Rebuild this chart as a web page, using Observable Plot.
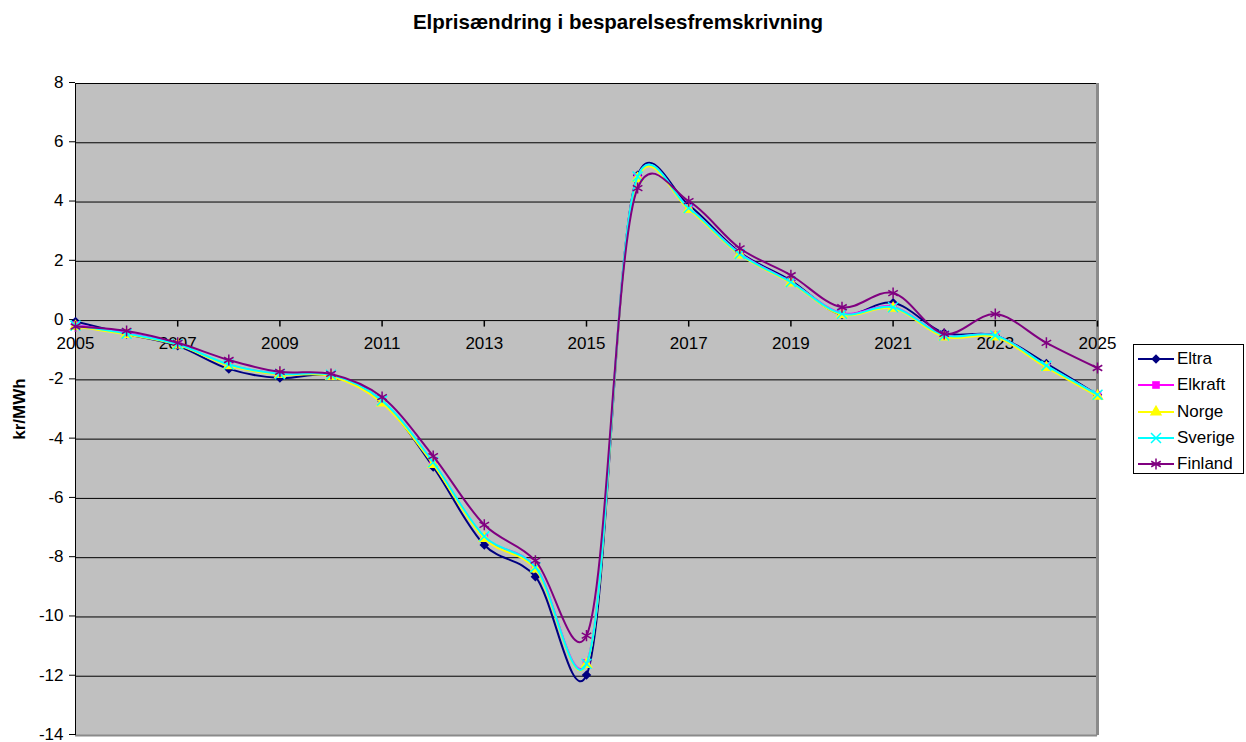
<!DOCTYPE html>
<html>
<head>
<meta charset="utf-8">
<script src="https://cdn.jsdelivr.net/npm/d3@7"></script>
<script src="https://cdn.jsdelivr.net/npm/@observablehq/plot@0.6"></script>
<style>
  body { margin: 0; background: #fff; font-family: "Liberation Sans", Arial, sans-serif; }
  #chart { position: relative; width: 1246px; height: 742px; }
  #title { position: absolute; left: 0; top: 10px; width: 1236px; text-align: center;
           font-weight: bold; font-size: 20.5px; line-height: 24px; color: #000; }
  #ylabel { position: absolute; left: 20px; top: 409px; transform: translate(-50%, -50%) rotate(-90deg);
            font-weight: bold; font-size: 17px; white-space: nowrap; }
  #legend { position: absolute; left: 1133px; top: 344px; width: 111px; height: 130px;
            border: 1px solid #000; background: #fff; box-sizing: border-box; padding-top: 1px; }
  .row { display: flex; align-items: center; height: 26.3px; font-size: 17px; }
  .row svg { margin-left: 4px; margin-right: 3px; }
</style>
</head>
<body>
<div id="chart">
  <div id="title">Elprisændring i besparelsesfremskrivning</div>
  <div id="ylabel">kr/MWh</div>
  <div id="legend"></div>
</div>
<script>
// Yearly price change per area (kr/MWh)
const years = d3.range(2005, 2026);
const eltra   = [-0.03, -0.45, -0.85, -1.63, -1.94, -1.85, -2.72, -4.94, -7.57, -8.64, -11.96, 4.90, 3.90, 2.30, 1.35, 0.20, 0.60, -0.42, -0.50, -1.45, -2.50];
const elkraft = [-0.15, -0.42, -0.80, -1.50, -1.80, -1.85, -2.72, -4.80, -7.30, -8.30, -11.55, 4.85, 3.80, 2.27, 1.30, 0.25, 0.47, -0.50, -0.50, -1.53, -2.50];
const norge   = [-0.20, -0.47, -0.82, -1.52, -1.82, -1.88, -2.78, -4.85, -7.35, -8.38, -11.60, 4.80, 3.75, 2.22, 1.27, 0.20, 0.42, -0.55, -0.55, -1.58, -2.55];
const sverige = [-0.17, -0.44, -0.80, -1.48, -1.80, -1.83, -2.70, -4.78, -7.28, -8.32, -11.58, 4.86, 3.80, 2.25, 1.30, 0.23, 0.45, -0.50, -0.50, -1.52, -2.50];
const finland = [-0.20, -0.35, -0.75, -1.33, -1.73, -1.80, -2.58, -4.57, -6.89, -8.10, -10.63, 4.47, 4.03, 2.44, 1.53, 0.45, 0.93, -0.45, 0.22, -0.75, -1.60];

const yTicks = d3.range(-14, 9, 2);
const xTickYears = d3.range(2005, 2026, 2);

const seriesList = [
  {name: "Eltra",   values: eltra,   color: "#000080", symbol: "diamond2", r: 4.3, filled: true},
  {name: "Elkraft", values: elkraft, color: "#FF00FF", symbol: "square",   r: 4.3, filled: true},
  {name: "Norge",   values: norge,   color: "#FFFF00", symbol: "triangle", r: 4.6, filled: true},
  {name: "Sverige", values: sverige, color: "#00FFFF", symbol: "times",    r: 4.6, filled: false},
  {name: "Finland", values: finland, color: "#800080", symbol: "asterisk", r: 5.2, filled: false}
];

// smoothed line, between uniform and centripetal Catmull–Rom
const smooth = d3.curveCatmullRom.alpha(0.2);

// short downward tick used on the zero-line category axis
const tickDown = { draw(context) { context.moveTo(0, 0); context.lineTo(0, 6); } };

const marks = [
  Plot.frame({fill: "#C0C0C0", stroke: null}),
  Plot.ruleY(yTicks.filter(d => d > -14), {y: d => d, stroke: "#000", strokeWidth: 1}),
  Plot.ruleY([-14], {y: d => d, stroke: "#8a8a8a", strokeWidth: 2}),
  Plot.ruleX([2025], {x: d => d, stroke: "#8a8a8a", strokeWidth: 3}),
  Plot.ruleX([2005], {x: d => d, stroke: "#000", strokeWidth: 1}),
  Plot.axisY({ticks: yTicks, tickSize: 6, tickPadding: 6, fontSize: 17, label: null, dy: -1, tickFormat: d => String(d)}),
  Plot.dot(xTickYears, {x: d => d, y: 0, symbol: tickDown, r: 3, stroke: "#000", fill: "none"}),
  Plot.text(xTickYears, {x: d => d, y: 0, text: d => String(d), dy: 23, fontSize: 17, fill: "#000"})
];

for (const s of seriesList) {
  const rows = years.map((year, i) => ({year, value: s.values[i]}));
  marks.push(Plot.line(rows, {x: "year", y: "value", stroke: s.color, strokeWidth: 2, curve: smooth}));
  marks.push(Plot.dot(rows, s.filled
    ? {x: "year", y: "value", symbol: s.symbol, r: s.r, fill: s.color, stroke: "none"}
    : {x: "year", y: "value", symbol: s.symbol, r: s.r, stroke: s.color, strokeWidth: 1.5, fill: "none"}));
}

const chart = Plot.plot({
  width: 1246,
  height: 742,
  marginLeft: 75,
  marginRight: 149,
  marginTop: 83,
  marginBottom: 7,
  style: {background: "transparent", fontFamily: "'Liberation Sans', Arial, sans-serif", fontSize: "17px", color: "#000", overflow: "visible"},
  x: {domain: [2005, 2025], axis: null},
  y: {domain: [-14, 8], axis: null},
  marks
});
chart.style.position = "absolute";
chart.style.left = "0";
chart.style.top = "0";
document.getElementById("chart").prepend(chart);

// legend rows: line segment with marker, then name
const legend = d3.select("#legend");
for (const s of seriesList) {
  const row = legend.append("div").attr("class", "row");
  const svg = row.append("svg").attr("width", 36).attr("height", 14);
  svg.append("line").attr("x1", 0).attr("x2", 36).attr("y1", 7).attr("y2", 7)
    .attr("stroke", s.color).attr("stroke-width", 2);
  const symType = {diamond2: d3.symbolDiamond2, square: d3.symbolSquare, triangle: d3.symbolTriangle,
                   times: d3.symbolTimes, asterisk: d3.symbolAsterisk}[s.symbol];
  const path = svg.append("path").attr("transform", "translate(18,7)")
    .attr("d", d3.symbol(symType, Math.PI * s.r * s.r)());
  if (s.filled) path.attr("fill", s.color);
  else path.attr("fill", "none").attr("stroke", s.color).attr("stroke-width", 1.5);
  row.append("span").text(s.name);
}
</script>
</body>
</html>
